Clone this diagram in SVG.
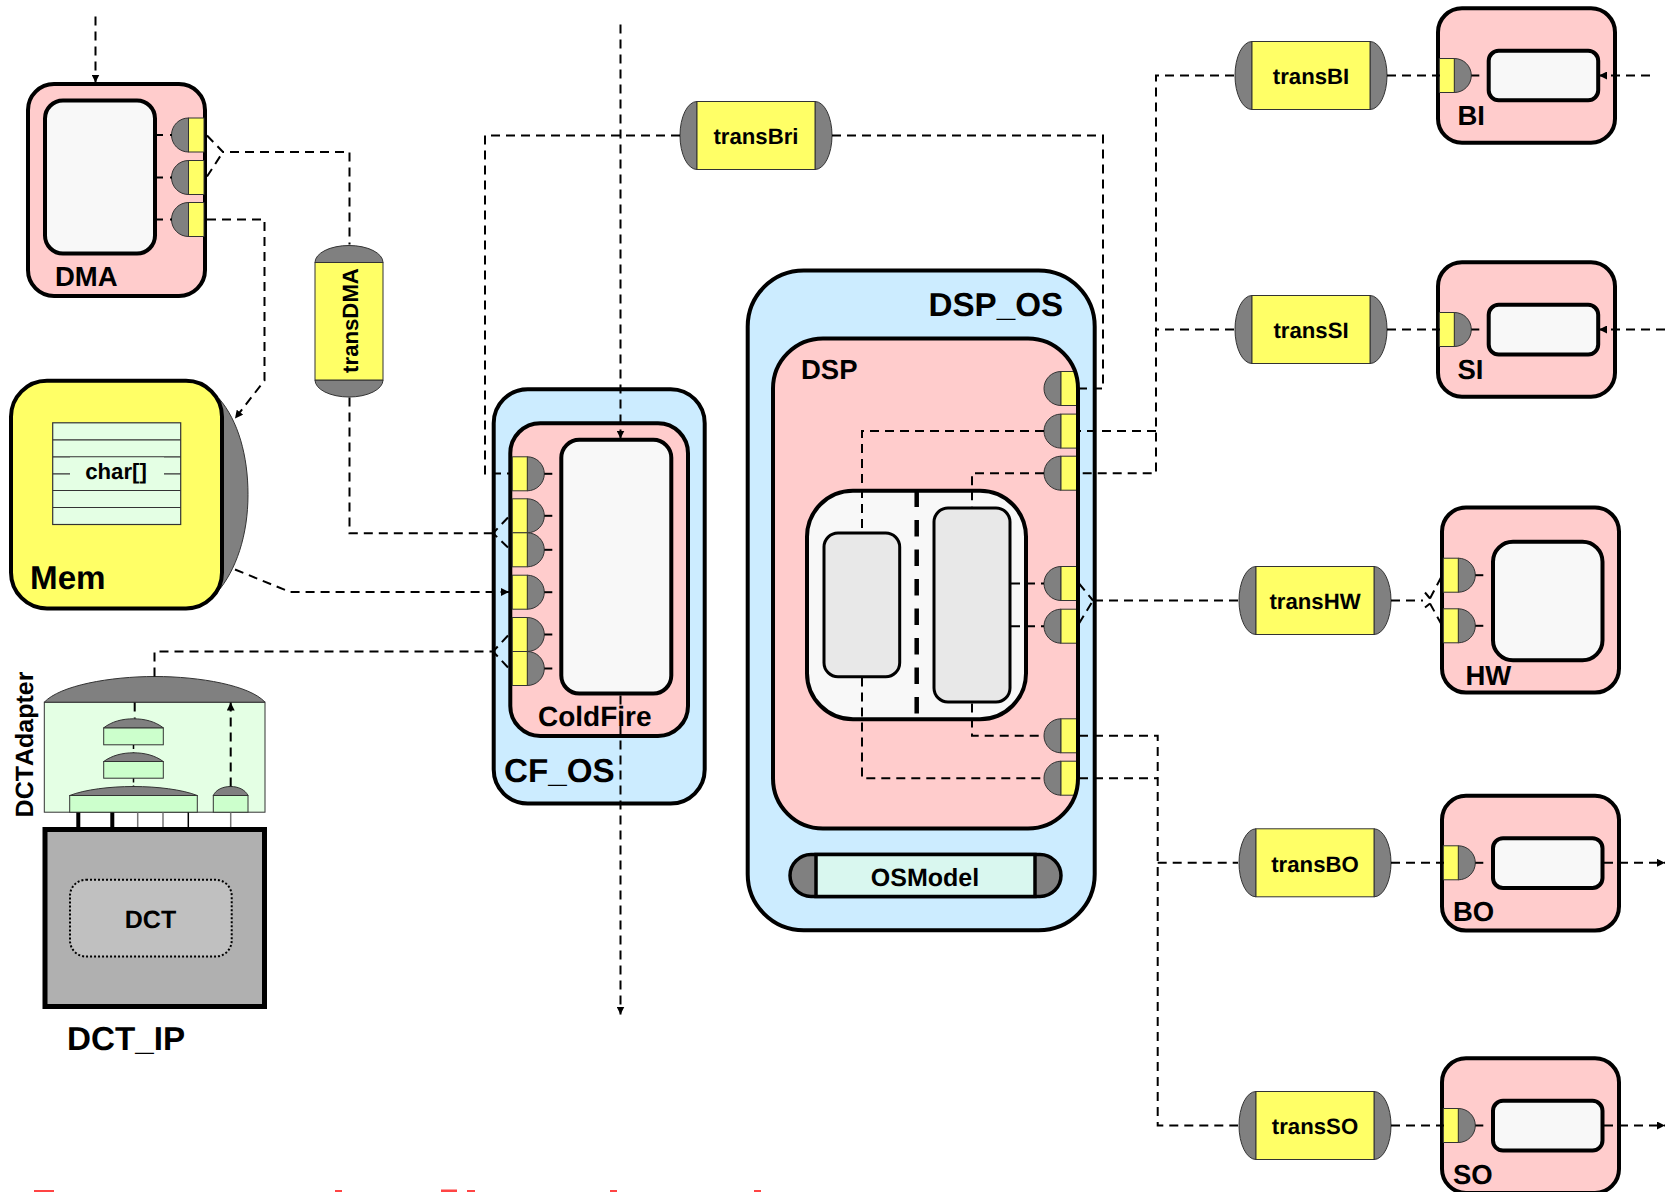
<svg xmlns="http://www.w3.org/2000/svg" width="1665" height="1192" viewBox="0 0 1665 1192">
<style>
text{font-family:"Liberation Sans",Arial,sans-serif;font-weight:bold;fill:#000;font-kerning:none;text-rendering:geometricPrecision}
.t22{font-size:22.2px;text-anchor:middle}
.t27{font-size:27.5px}
.t33{font-size:33.2px}
.b{stroke:#000;stroke-width:4}
.pink{fill:#ffcccc}
.blue{fill:#ccecff}
.white{fill:#f8f8f8}
.grey{fill:#808080;stroke:#333;stroke-width:1}
.yel{fill:#ffff66;stroke:#333;stroke-width:1}
.inner2{fill:#e8e8e8;stroke:#000;stroke-width:3}
.box{fill:#ccffcc;stroke:#333;stroke-width:1}
.d{fill:none;stroke:#000;stroke-width:2;stroke-dasharray:9 6}
.s{fill:none;stroke:#000;stroke-width:2}
.a{marker-end:url(#arr)}
</style>
<defs>
<marker id="arr" markerUnits="userSpaceOnUse" viewBox="0 0 8 8" refX="8" refY="4" markerWidth="8" markerHeight="8" orient="auto"><path d="M0,0L8,4L0,8Z" fill="#000"/></marker>
<g id="portL"><path class="grey" d="M0,-17A17,17 0 0 0 0,17Z"/><rect class="yel" x="0" y="-17" width="15.5" height="34"/></g>
<g id="portR"><path class="grey" d="M0,-17A17,17 0 0 1 0,17Z"/><rect class="yel" x="-15" y="-17" width="15" height="34"/><path class="s" d="M17,0H25"/></g>
<g id="transH"><path class="grey" d="M-59,-34A17,34 0 0 0 -59,34Z"/><path class="grey" d="M59,-34A17,34 0 0 1 59,34Z"/><rect class="yel" x="-59" y="-34" width="118" height="68"/></g>
<clipPath id="dspClip"><rect x="773" y="338" width="305" height="490" rx="50"/></clipPath>
</defs>
<g id="diagram" transform="translate(0 0.5)">

<g id="node-DMA">
<rect class="pink b" x="28" y="83.5" width="177" height="212" rx="26"/>
<rect class="white b" x="45" y="100" width="110" height="153" rx="18"/>
<use href="#portL" x="188.5" y="134.5"/><use href="#portL" x="188.5" y="177"/><use href="#portL" x="188.5" y="219"/>
<path class="s" d="M157,134.5H163M170,134.5H172M157,177H163M170,177H172M157,219H163M170,219H172"/>
<text class="t27" x="55" y="285.5">DMA</text>
</g>

<g id="node-transDMA">
<path class="grey" d="M315,262A34,17 0 0 1 383,262Z"/>
<path class="grey" d="M315,379.5A34,17 0 0 0 383,379.5Z"/>
<rect class="yel" x="315" y="262" width="68" height="117.5"/>
<text class="t22" transform="translate(358 320) rotate(-90)">transDMA</text>
</g>

<g id="node-Mem">
<path class="grey" d="M219,398C238,420 248,455 248,494C248,535 236,570 217,592Z"/>
<rect fill="#ffff66" class="b" x="11" y="380.3" width="211" height="227.7" rx="36"/>
<rect x="52.7" y="422.3" width="128" height="101.7" fill="#e4ffe4" stroke="#333" stroke-width="1.2"/>
<path stroke="#333" stroke-width="1.2" fill="none" d="M52.7,439.3H180.7M52.7,456.3H180.7M52.7,473.3H180.7M52.7,490H180.7M52.7,507H180.7"/>
<rect x="70" y="457" width="94" height="32.5" fill="#e4ffe4"/>
<text class="t22" x="116" y="478.5">char[]</text>
<text class="t33" x="30" y="588">Mem</text>
</g>

<g id="node-DCTAdapter">
<rect x="44.3" y="701.7" width="220.7" height="110" fill="#e4ffe4" stroke="#333" stroke-width="1"/>
<path class="grey" d="M44.3,701.7C60,685 110,676 155,676C200,676 250,685 265,701.7Z"/>
<rect class="box" x="103.7" y="727.3" width="59.6" height="17"/><path class="grey" d="M103.7,727.3C112,721 122,718.3 133.5,718.3C145,718.3 155,721 163.3,727.3Z"/>
<rect class="box" x="103.7" y="761" width="59.6" height="16.7"/><path class="grey" d="M103.7,761C112,755 122,752.3 133.5,752.3C145,752.3 155,755 163.3,761Z"/>
<rect class="box" x="69.7" y="795" width="127.6" height="16.7"/><path class="grey" d="M69.7,795C85,789 110,786 133.5,786C157,786 182,789 197.3,795Z"/>
<rect class="box" x="213.3" y="795" width="34.7" height="16.7"/><path class="grey" d="M213.3,795C216,789 223,786 230.7,786C238,786 245,789 248,795Z"/>
<path fill="none" stroke="#000" stroke-width="4" d="M78.3,812V828M112.3,812V828"/>
<path fill="none" stroke="#777" stroke-width="1.5" d="M137.7,812V828M163,812V828M230.7,812V828"/>
<path fill="none" stroke="#000" stroke-width="1.5" d="M188.3,812V828"/>
<text font-size="25" text-anchor="middle" transform="translate(33 744) rotate(-90)">DCTAdapter</text>
</g>

<g id="node-DCT_IP">
<rect x="45" y="829" width="219.5" height="177" fill="#b0b0b0" stroke="#000" stroke-width="5"/>
<rect x="70" y="879.3" width="161.7" height="76.7" rx="16" fill="#c0c0c0" stroke="#000" stroke-width="2" stroke-dasharray="2 2"/>
<text font-size="25" text-anchor="middle" x="150.5" y="927.5">DCT</text>
<text class="t33" x="67" y="1049.5">DCT_IP</text>
</g>

<g id="node-CF_OS">
<rect class="blue b" x="493.7" y="388.7" width="211" height="414.3" rx="34"/>
<text class="t33" x="504" y="781.5">CF_OS</text>
</g>
<g id="node-ColdFire">
<rect class="pink b" x="510.3" y="422.7" width="177.7" height="312.7" rx="30"/>
<rect class="white b" x="561.3" y="439.3" width="110" height="253.7" rx="18"/>
<use href="#portR" x="527.3" y="473.3"/><use href="#portR" x="527.3" y="515.3"/><use href="#portR" x="527.3" y="549.3"/><use href="#portR" x="527.3" y="591.7"/><use href="#portR" x="527.3" y="634"/><use href="#portR" x="527.3" y="668"/>
<text font-size="28" x="538" y="725.5">ColdFire</text>
</g>

<g id="node-DSP_OS">
<rect class="blue b" x="747.7" y="270" width="347" height="659.7" rx="56"/>
<text class="t33" x="928.5" y="315.5">DSP_OS</text>
</g>
<g id="node-DSP">
<rect class="pink" x="773" y="338" width="305" height="490" rx="50"/>
<g clip-path="url(#dspClip)">
<use href="#portL" x="1061" y="388"/><use href="#portL" x="1061" y="430.6"/><use href="#portL" x="1061" y="472.7"/><use href="#portL" x="1061" y="583"/><use href="#portL" x="1061" y="625.7"/><use href="#portL" x="1061" y="735.3"/><use href="#portL" x="1061" y="777.7"/>
</g>
<rect class="b" fill="none" x="773" y="338" width="305" height="490" rx="50"/>
<rect class="white b" x="807" y="490.3" width="219" height="228.4" rx="46"/>
<path d="M916.7,490V715" fill="none" stroke="#000" stroke-width="4.5" stroke-dasharray="16.5 13"/>
<rect class="inner2" x="824" y="532.5" width="75.7" height="143.7" rx="14"/>
<rect class="inner2" x="934" y="507.5" width="76" height="194" rx="14"/>
<text class="t27" x="801" y="378.5">DSP</text>
</g>
<g id="node-OSModel">
<rect x="790" y="854" width="271" height="42" rx="21" fill="#808080" stroke="#000" stroke-width="3.5"/>
<rect x="816" y="854" width="219" height="42" fill="#d9f7ef" stroke="#000" stroke-width="3.5"/>
<text font-size="25" text-anchor="middle" x="925" y="885.5">OSModel</text>
</g>

<g id="node-transBri"><use href="#transH" x="756" y="135"/><text class="t22" x="756" y="143.5">transBri</text></g>
<g id="node-transBI"><use href="#transH" x="1311" y="75"/><text class="t22" x="1311" y="83.5">transBI</text></g>
<g id="node-transSI"><use href="#transH" x="1311" y="329"/><text class="t22" x="1311" y="337.5">transSI</text></g>
<g id="node-transHW"><use href="#transH" x="1315" y="600"/><text class="t22" x="1315" y="608.5">transHW</text></g>
<g id="node-transBO"><use href="#transH" x="1315" y="862.3"/><text class="t22" x="1315" y="871">transBO</text></g>
<g id="node-transSO"><use href="#transH" x="1315" y="1125"/><text class="t22" x="1315" y="1133.5">transSO</text></g>

<g id="node-BI">
<rect class="pink b" x="1438" y="7.7" width="177" height="134.5" rx="24"/>
<rect class="white b" x="1488.7" y="50.3" width="109.5" height="49.5" rx="10"/>
<use href="#portR" x="1454.3" y="75"/>
<text class="t27" x="1457.5" y="124.5">BI</text>
</g>
<g id="node-SI">
<rect class="pink b" x="1438" y="261.7" width="177" height="134.5" rx="24"/>
<rect class="white b" x="1488.7" y="304.3" width="109.5" height="49.7" rx="10"/>
<use href="#portR" x="1454.3" y="329"/>
<text class="t27" x="1457.5" y="378.5">SI</text>
</g>
<g id="node-HW">
<rect class="pink b" x="1442" y="507" width="177" height="185" rx="24"/>
<rect class="white b" x="1493" y="541.3" width="109.5" height="118.5" rx="20"/>
<use href="#portR" x="1458.3" y="574.7"/><use href="#portR" x="1458.3" y="625.3"/>
<text class="t27" x="1465.5" y="684.5">HW</text>
</g>
<g id="node-BO">
<rect class="pink b" x="1442" y="795.3" width="177" height="134.7" rx="24"/>
<rect class="white b" x="1493" y="837.7" width="109.5" height="49.7" rx="10"/>
<use href="#portR" x="1458.3" y="862.3"/>
<text class="t27" x="1453" y="920.5">BO</text>
</g>
<g id="node-SO">
<rect class="pink b" x="1442" y="1057.7" width="177" height="134.7" rx="24"/>
<rect class="white b" x="1493" y="1100.3" width="109.5" height="49.7" rx="10"/>
<use href="#portR" x="1458.3" y="1125"/>
<text class="t27" x="1453" y="1183.5">SO</text>
</g>

<g id="connectors">
<path class="d a" d="M95.5,16V82"/>
<path class="d" d="M207,135L223,151.5H349.5V244"/>
<path class="d" d="M207,176L223,151.5"/>
<path class="d a" d="M207,219H264.5V380L235,418"/>
<path class="d" d="M349.5,397V532.7H493"/>
<path class="d" d="M508,517L493,532.7"/>
<path class="d" d="M508,547L493,532.7"/>
<path class="d a" d="M235,569L290,591.5H509"/>
<path class="d" d="M154.5,676V651H493"/>
<path class="d" d="M508,635L493,651"/>
<path class="d" d="M508,667L493,651"/>
<path class="d" d="M680,135H485V473H510"/>
<path class="d" d="M832,135H1103V388H1079"/>
<path class="d a" d="M620.5,24V438"/>
<path class="d a" d="M620.5,695V1014"/>
<path class="d" d="M1234,75H1156V472.7H1079"/>
<path class="d" d="M1234,329H1156"/>
<path class="d" d="M1156,430.6H1079"/>
<path class="d" d="M1044,430.6H862V531"/>
<path class="d" d="M1044,472.7H972V506"/>
<path class="d" d="M1238,600H1093"/>
<path class="d" d="M1079,583L1093,600"/>
<path class="d" d="M1079,623L1093,600"/>
<path class="d" d="M1011,583H1044"/>
<path class="d" d="M1011,625.7H1044"/>
<path class="d" d="M862,677V777.7H1044"/>
<path class="d" d="M972,703V735.3H1044"/>
<path class="d" d="M1079,735.3H1157.7V1125H1238"/>
<path class="d" d="M1079,777.7H1157.7"/>
<path class="d" d="M1157.7,862.3H1238"/>
<path class="d" d="M1387,75H1440"/>
<path class="d a" d="M1650,75H1599"/>
<path class="d" d="M1387,329H1440"/>
<path class="d a" d="M1665,329H1599"/>
<path class="d" d="M1391,600H1423"/>
<path class="d" d="M1430,598L1441,577"/>
<path class="d" d="M1430,603L1441,623"/>
<path class="s" d="M1425,592L1430,598M1425,607L1430,603"/>
<path class="d" d="M1391,862.3H1444"/>
<path class="d a" d="M1604,862.3H1665"/>
<path class="d" d="M1391,1125H1444"/>
<path class="d a" d="M1604,1125H1665"/>
<path class="d" d="M134.7,702V718"/>
<path class="d" style="stroke-width:1.5;stroke-dasharray:4 3" d="M133.5,744.5V752M133.5,778V786"/>
<path class="d a" d="M230.7,786V702"/>
</g>
</g>

<g id="cropped-footer" fill="#ff4444">
<rect x="34" y="1190" width="20" height="2"/>
<rect x="335" y="1190" width="7" height="2"/>
<rect x="441" y="1189.5" width="16" height="2.5"/>
<rect x="467" y="1190" width="8" height="2"/>
<rect x="610" y="1190" width="7" height="2"/>
<rect x="754" y="1190" width="7" height="2"/>
</g>
</svg>
